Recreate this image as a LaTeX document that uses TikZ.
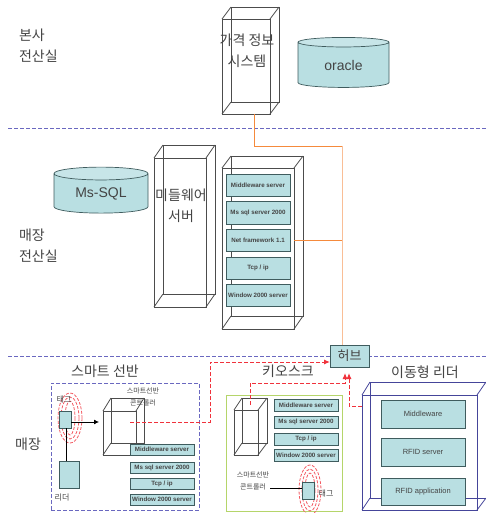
\documentclass[tikz,border=0pt]{standalone}
\usepackage{fontspec}
\setmainfont{Liberation Sans}
\newfontfamily\krfont{Noto Sans CJK KR}
\usetikzlibrary{arrows.meta,positioning,shapes.geometric}
\definecolor{tealfill}{HTML}{B9DFE2}
\definecolor{tealline}{HTML}{3F5C5E}
\definecolor{sectionblue}{HTML}{6A68C0}
\definecolor{navyline}{HTML}{45459A}
\definecolor{kioskgreen}{HTML}{B5D56A}
\definecolor{hotred}{HTML}{F0323C}
\definecolor{wireorange}{HTML}{F58A3C}
\definecolor{wirepeach}{HTML}{F9BE96}
\definecolor{labelgray}{HTML}{444444}
\newcommand{\cubelinks}[2]{\foreach \c in {north west,north east,south west,south east}
    \draw[#2, line width=0.8pt] (#1.\c) -- (#1back.\c);}

\begin{document}
\begin{tikzpicture}[
    x=1pt, y=-1pt,
    every node/.style={inner sep=0pt, outer sep=0pt, text=labelgray},
    cube/.style 2 args={draw=#1, anchor=north west, line width=0.8pt, minimum width=#2},
    kr/.style={font=\krfont\fontsize{14}{21}\selectfont, align=center},
    krleft/.style={font=\krfont\fontsize{14}{21}\selectfont, align=left, anchor=west},
    title/.style={font=\krfont\fontsize{14}{20}\selectfont, align=center},
    krsmall/.style={font=\krfont\fontsize{7}{12}\selectfont, align=center},
    krtag/.style={font=\krfont\fontsize{8}{10}\selectfont},
    db/.style={draw=tealline, cylinder, shape border rotate=90, aspect=0.25, cylinder uses custom fill,
      cylinder body fill=tealfill, cylinder end fill=tealfill!80!white, line width=0.7pt,
      font=\fontsize{14}{16}\selectfont},
    chip/.style={draw=tealline, fill=tealfill, anchor=north west, line width=1pt, minimum width=64pt,
      font=\bfseries\fontsize{6.2}{8}\selectfont},
    panel/.style={draw=tealline, fill=tealfill, anchor=north west, line width=1pt, minimum width=84pt,
      font=\fontsize{7.5}{9}\selectfont},
    tagbox/.style={draw=tealline, fill=tealfill, anchor=north west, line width=1pt},
    sectionline/.style={draw=sectionblue, dash pattern=on 4pt off 2pt, line width=1pt},
    wave/.style={draw=hotred!80, dash pattern=on 3pt off 1.5pt, line width=0.8pt},
    redlink/.style={draw=hotred, dash pattern=on 4pt off 2pt, line width=1pt, -{Latex[length=6pt,width=5pt]}},
    wire/.style={draw=wireorange, line width=0.9pt}
  ]
    \useasboundingbox (0,0) rectangle (486,513);

    % section lines
    \coordinate (sec1a) at (8,129);
    \coordinate (sec1b) at (486,129);
    \coordinate (sec2a) at (8,356);
    \coordinate (sec2b) at (486,356);
    \draw[sectionline] (sec1a) -- (sec1b);
    \draw[sectionline] (sec2a) -- (sec2b);

    % head office
    \node[krleft] (hqlabel) at (19,46) {본사\\전산실};
    \node[cube={black!70}{48pt}, minimum height=95pt] (pricebox) at (222,19) {};
    \node[cube={black!70}{48pt}, minimum height=95pt] (priceboxback) at (231,7) {};
    \cubelinks{pricebox}{black!70}
    \node[kr] (pricetext) at (247,51) {가격 정보\\시스템};
    \node[db, minimum width=91pt, minimum height=50pt] (oracle) at (343.5,65) {\raisebox{-5pt}{oracle}};

    % store server room
    \node[krleft] (roomlabel) at (19,246) {매장\\전산실};
    \node[db, minimum width=94pt, minimum height=46pt] (mssql) at (101,193.5) {\raisebox{-5pt}{Ms-SQL}};
    \node[cube={black!70}{52pt}, minimum height=149pt] (mwbox) at (154,158) {};
    \node[cube={black!70}{52pt}, minimum height=149pt] (mwboxback) at (163,145) {};
    \cubelinks{mwbox}{black!70}
    \node[kr] (mwtext) at (181,206) {미들웨어\\서버};
    \node[cube={black!70}{72pt}, minimum height=161pt] (rack) at (222,168) {};
    \node[cube={black!70}{72pt}, minimum height=160pt] (rackback) at (231,156) {};
    \cubelinks{rack}{black!70}
    \node[chip, minimum height=22pt] (r1) at (226,174) {Middleware server};
    \node[chip, minimum height=23pt] (r2) at (226,201) {Ms sql server 2000};
    \node[chip, minimum height=22pt] (r3) at (226,229) {Net framework 1.1};
    \node[chip, minimum height=22pt] (r4) at (226,257) {Tcp / ip};
    \node[chip, minimum height=22pt] (r5) at (226,284) {Window 2000 server};

    % hub
    \node[tagbox, minimum width=39pt, minimum height=22pt, font=\krfont\fontsize{13}{15}\selectfont] (hub) at (330,345) {허브};
    \coordinate (hubtop) at (342,345);
    \coordinate (priceout) at (254,114);
    \coordinate (wirecorner) at (342,146);
    \draw[wire] (priceout) |- (wirecorner);
    \draw[wire, draw=wirepeach] (wirecorner) -- (hubtop);
    \draw[wire] (rack.east |- r3.east) -- (342,240);

    % store
    \node[title] (storelabel) at (28,444) {매장};
    \node[title] (shelftitle) at (105,371) {스마트 선반};
    \node[sectionline, anchor=north west, minimum width=148pt, minimum height=127pt] (shelf) at (51,383) {};
    \foreach \rx/\ry in {5/17, 9/21, 12/25}
      \draw[wave] (70,418) ellipse ({\rx} and {\ry});
    \node[krtag] (shelftaglabel) at (64,399) {태그};
    \node[tagbox, minimum width=12pt, minimum height=17pt] (shelftag) at (59,411) {};
    \node[tagbox, minimum width=20pt, minimum height=27pt] (reader) at (59,461) {};
    \node[krtag] (readerlabel) at (62,498) {리더};
    \coordinate (readerup) at (66,461);
    \coordinate (shelftagdown) at (66,428);
    \draw[black, line width=0.8pt] (readerup) -- (shelftagdown);
    \node[cube={black!70}{33pt}, minimum height=44pt] (shelfcube) at (103,411) {};
    \node[cube={black!70}{33pt}, minimum height=45pt] (shelfcubeback) at (111,398) {};
    \cubelinks{shelfcube}{black!70}
    \coordinate (shelftagout) at (71,422);
    \coordinate (shelfcubein) at (99,422);
    \draw[black, line width=0.8pt, -{Latex[length=5pt,width=5pt]}] (shelftagout) -- (shelfcubein);
    \node[krsmall] (shelfctl) at (143,397) {스마트선반\\콘트롤러};
    \node[chip, minimum height=11pt] (s1) at (130,444) {Middleware server};
    \node[chip, minimum height=11pt] (s2) at (130,462) {Ms sql server 2000};
    \node[chip, minimum height=11pt] (s3) at (130,478) {Tcp / ip};
    \node[chip, minimum height=11pt] (s4) at (130,494) {Window 2000 server};
    \coordinate (shelfout) at (130,422);
    \coordinate (hubwest) at (330,362);
    \draw[redlink] (shelfout) -| (210,362) -- (hubwest);

    % kiosk
    \node[title] (kiosktitle) at (288,371) {키오스크};
    \node[draw=kioskgreen, line width=1pt, anchor=north west, minimum width=116pt, minimum height=116pt] (kiosk) at (226,395) {};
    \node[cube={black!70}{24pt}, minimum height=45pt] (kioskcube) at (234,410) {};
    \node[cube={black!70}{25pt}, minimum height=45pt] (kioskcubeback) at (242,398) {};
    \cubelinks{kioskcube}{black!70}
    \node[chip, minimum height=12pt] (k1) at (274,399) {Middleware server};
    \node[chip, minimum height=12pt] (k2) at (274,416) {Ms sql server 2000};
    \node[chip, minimum height=12pt] (k3) at (274,433) {Tcp / ip};
    \node[chip, minimum height=12pt] (k4) at (274,449) {Window 2000 server};
    \node[krsmall] (kioskctl) at (253,481) {스마트선반\\콘트롤러};
    \foreach \rx/\ry in {5/17, 8/21, 11/25}
      \draw[wave] (310,490) ellipse ({\rx} and {\ry});
    \node[tagbox, minimum width=12pt, minimum height=17pt] (kiosktag) at (302,482) {};
    \node[krtag] (kiosktaglabel) at (326,493) {태그};
    \coordinate (kioskctlout) at (270,488);
    \draw[black, line width=0.8pt] (kioskctlout) -- (kiosktag.west |- kioskctlout);
    \coordinate (kioskout) at (250,405);
    \coordinate (hubin1) at (345,373);
    \draw[redlink] (kioskout) |- (345,383) -- (hubin1);

    % mobile reader
    \node[title] (mobiletitle) at (425,372) {이동형 리더};
    \node[cube={navyline}{116pt}, minimum height=116pt] (mobileback) at (370,382) {};
    \node[cube={navyline}{115pt}, minimum height=115pt] (mobile) at (362,395) {};
    \cubelinks{mobile}{navyline}
    \node[panel, minimum height=28pt] (m1) at (381,400) {Middleware};
    \node[panel, minimum height=28pt] (m2) at (381,438) {RFID server};
    \node[panel, minimum height=27pt] (m3) at (381,478) {RFID application};
    \coordinate (hubin2) at (349,373);
    \coordinate (mobileout) at (362,406);
    \draw[redlink] (mobileout) -| (hubin2);
  \end{tikzpicture}
\end{document}
